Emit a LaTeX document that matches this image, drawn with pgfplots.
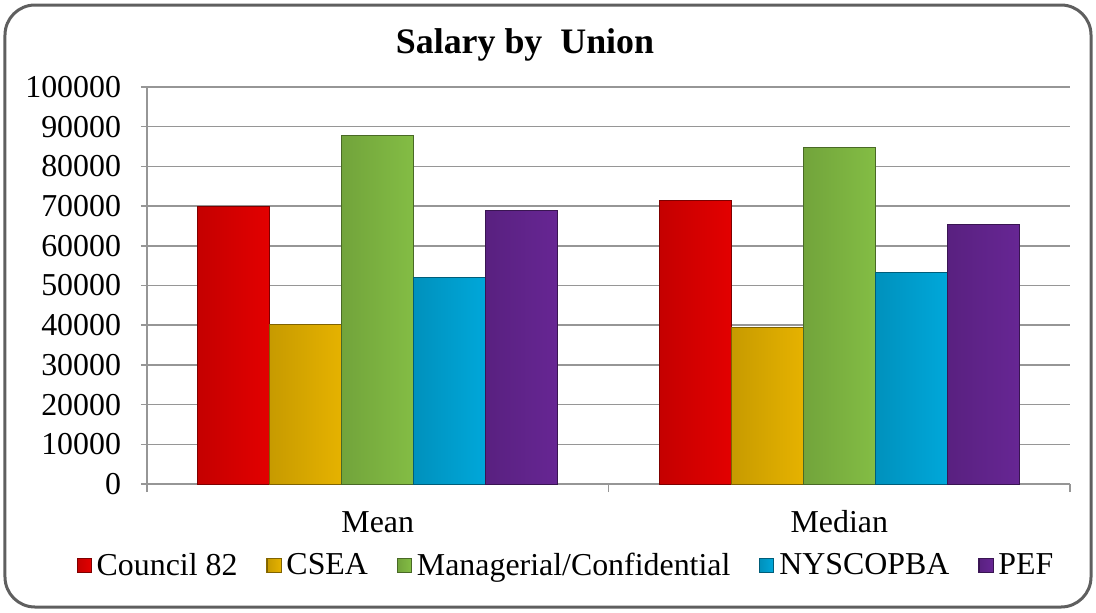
\documentclass[border=0pt]{standalone}
\usepackage{fontspec}
\setmainfont{Liberation Serif}
\usepackage{pgfplots}
\pgfplotsset{compat=1.18}
\definecolor{cRed}{RGB}{252,0,0}
\definecolor{cYel}{RGB}{255,198,0}
\definecolor{cGrn}{RGB}{146,210,76}
\definecolor{cBlu}{RGB}{0,186,242}
\definecolor{cPur}{RGB}{114,42,164}
\definecolor{gridgray}{RGB}{150,150,150}
\definecolor{framegray}{RGB}{95,95,95}
\pgfplotsset{
  sbar/.style={draw=#1!50!black, line width=0.5bp, left color=#1!78!black, middle color=#1, right color=#1!90!black},
}
\begin{document}
\begin{tikzpicture}[x=1bp,y=1bp]
\path (-73.5,-64) rectangle (474.5,242);
\draw[framegray, line width=1.5bp, rounded corners=15bp] (-71,-61.5) rectangle (472,239.5);
\begin{axis}[
  at={(0,0)}, anchor=south west, scale only axis,
  width=461.5bp, height=198.5bp,
  ybar=0bp, bar width=36bp,
  xmin=-0.5, xmax=1.5, ymin=0, ymax=100000,
  xtick={0,1}, xticklabels={Mean,Median},
  minor xtick={-0.5,0.5,1.5},
  ytick={0,10000,20000,30000,40000,50000,60000,70000,80000,90000,100000},
  yticklabels={0,10000,20000,30000,40000,50000,60000,70000,80000,90000,100000},
  ymajorgrids, grid style={gridgray, line width=0.75bp},
  axis x line*=bottom, axis y line*=left,
  axis line style={gridgray, line width=0.75bp},
  tick align=outside, major tick length=3bp, minor tick length=4bp,
  major x tick style={draw=none},
  minor x tick style={gridgray, line width=0.75bp},
  ytick style={gridgray, line width=0.75bp},
  scaled y ticks=false,
  tick label style={font=\fontsize{16}{18}\selectfont, text=black},
  yticklabel style={xshift=-6.5bp},
  xticklabel style={yshift=-6.5bp, text height=11bp, text depth=3bp},
  legend columns=5,
  legend style={draw=none, fill=none, at={(0.454,-0.206)}, anchor=center,
    font=\fontsize{16}{18}\selectfont,
    nodes={inner sep=1bp},
    /tikz/every even column/.append style={column sep=13.5bp}},
  legend image code/.code={\fill[#1] (0bp,-3.5bp) rectangle (7bp,3.5bp); \draw[#1, fill=none, line width=0.4bp] (0bp,-3.5bp) rectangle (7bp,3.5bp); \path (8.5bp,0bp);},
]
\addplot[sbar=cRed, bar shift=-72bp] coordinates {(0,70000)};
\addlegendentry{Council 82}
\addplot[sbar=cYel, bar shift=-36bp] coordinates {(0,40300)};
\addlegendentry{CSEA}
\addplot[sbar=cGrn, bar shift=0bp] coordinates {(0,87900)};
\addlegendentry{Managerial/Confidential}
\addplot[sbar=cBlu, bar shift=36bp] coordinates {(0,52000)};
\addlegendentry{NYSCOPBA}
\addplot[sbar=cPur, bar shift=72bp] coordinates {(0,68800)};
\addlegendentry{PEF}
\addplot[sbar=cRed, bar shift=-72bp, forget plot] coordinates {(1,71400)};
\addplot[sbar=cYel, bar shift=-36bp, forget plot] coordinates {(1,39500)};
\addplot[sbar=cGrn, bar shift=0bp, forget plot] coordinates {(1,84800)};
\addplot[sbar=cBlu, bar shift=36bp, forget plot] coordinates {(1,53200)};
\addplot[sbar=cPur, bar shift=72bp, forget plot] coordinates {(1,65400)};
\end{axis}
\node[font=\fontsize{18}{21}\selectfont\bfseries] at (189,219.5) {Salary by\ \ Union};
\end{tikzpicture}
\end{document}
